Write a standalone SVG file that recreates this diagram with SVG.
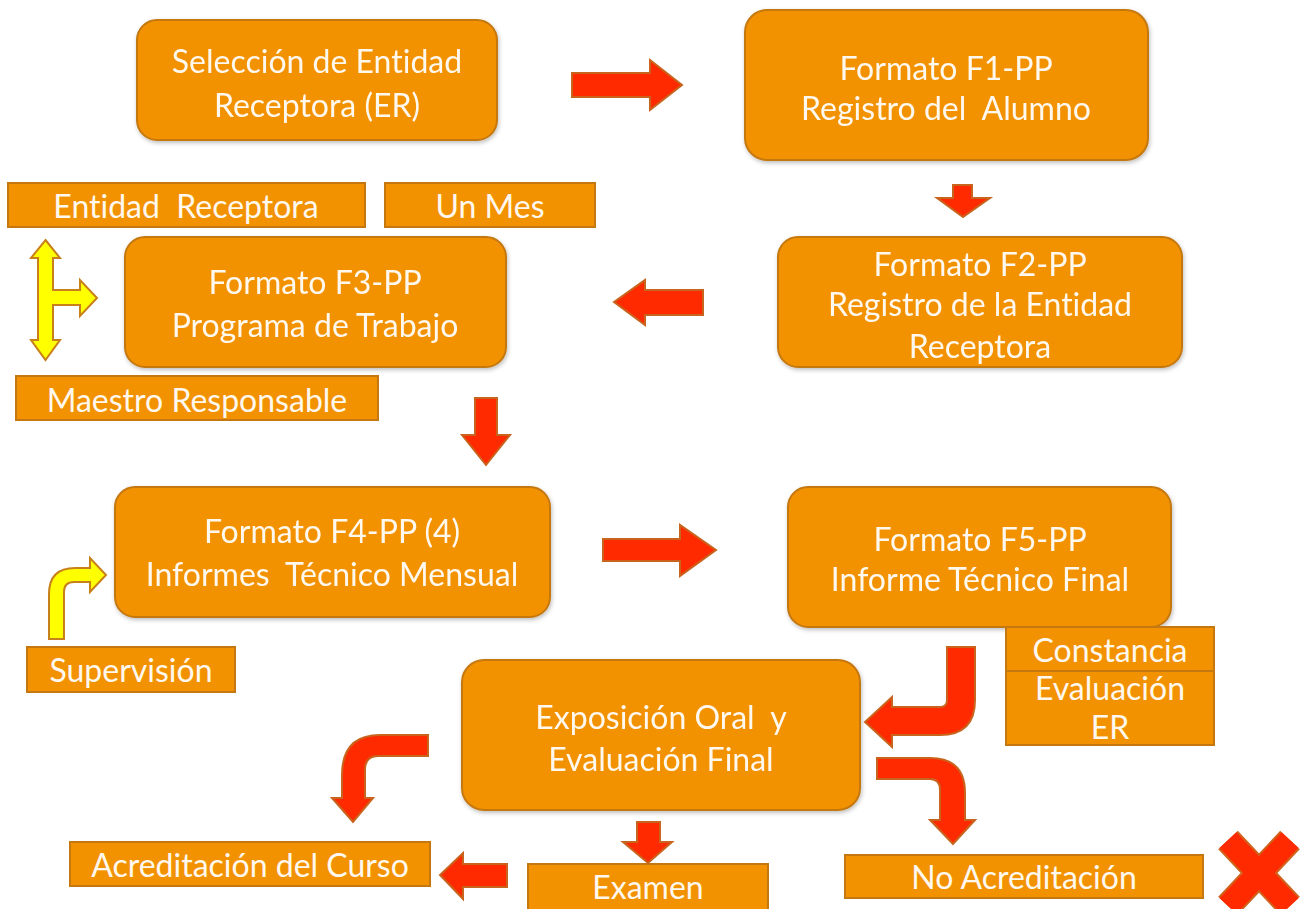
<svg xmlns="http://www.w3.org/2000/svg" width="1309" height="909" viewBox="0 0 1309 909">
<defs>
<style>
.node{fill:#F29200;stroke:#C5780F;stroke-width:2}
.lbl{fill:#F29200;stroke:#C5780F;stroke-width:2}
.t{font-family:Lato,"Open Sans","Liberation Sans",sans-serif;fill:#FFF8EE;font-size:32px;text-anchor:middle;white-space:pre;font-variant-ligatures:none}
.ts{font-family:Lato,"Open Sans","Liberation Sans",sans-serif;fill:#FFF8EE;font-size:32px;text-anchor:middle;white-space:pre;font-variant-ligatures:none}
.red{fill:#FF2A00;stroke:#C8641E;stroke-width:2;stroke-linejoin:miter}
.yel{fill:#FFFF00;stroke:#C8801A;stroke-width:2}
</style>
<filter id="sh" x="-5%" y="-5%" width="110%" height="115%"><feDropShadow dx="1" dy="2" stdDeviation="2" flood-color="#000" flood-opacity="0.25"/></filter>
</defs>
<rect width="1309" height="909" fill="#FFFFFF"/>

<g id="n-seleccion" filter="url(#sh)"><rect class="node" x="137" y="20" width="360" height="120" rx="20"/><text class="t" x="317" y="73">Selección de Entidad</text><text class="t" x="317" y="117">Receptora (ER)</text></g>
<g id="n-f1" filter="url(#sh)"><rect class="node" x="745" y="10" width="403" height="150" rx="22"/><text class="t" x="946" y="80">Formato F1-PP</text><text class="t" x="946" y="120">Registro del  Alumno</text></g>
<g id="n-f2" filter="url(#sh)"><rect class="node" x="778" y="237" width="404" height="130" rx="20"/><text class="t" x="980" y="276">Formato F2-PP</text><text class="t" x="980" y="316">Registro de la Entidad</text><text class="t" x="980" y="358">Receptora</text></g>
<g id="n-f3" filter="url(#sh)"><rect class="node" x="125" y="237" width="381" height="130" rx="20"/><text class="t" x="315" y="294">Formato F3-PP</text><text class="t" x="315" y="337">Programa de Trabajo</text></g>
<g id="n-f4" filter="url(#sh)"><rect class="node" x="115" y="487" width="435" height="130" rx="20"/><text class="t" x="332" y="543">Formato F4-PP (4)</text><text class="t" x="332" y="586">Informes  Técnico Mensual</text></g>
<g id="n-f5" filter="url(#sh)"><rect class="node" x="788" y="487" width="383" height="140" rx="20"/><text class="t" x="980" y="551">Formato F5-PP</text><text class="t" x="980" y="591">Informe Técnico Final</text></g>
<g id="n-expo" filter="url(#sh)"><rect class="node" x="462" y="660" width="398" height="150" rx="22"/><text class="t" x="661" y="729">Exposición Oral  y</text><text class="t" x="661" y="771">Evaluación Final</text></g>

<g id="l-entidad"><rect class="lbl" x="8" y="183" width="357" height="44"/><text class="ts" x="186" y="218">Entidad  Receptora</text></g>
<g id="l-unmes"><rect class="lbl" x="385" y="183" width="210" height="44"/><text class="ts" x="490" y="218">Un Mes</text></g>
<g id="l-maestro"><rect class="lbl" x="16" y="376" width="362" height="44"/><text class="ts" x="197" y="412">Maestro Responsable</text></g>
<g id="l-supervision"><rect class="lbl" x="27" y="647" width="208" height="45"/><text class="ts" x="131" y="682">Supervisión</text></g>
<g id="l-constancia"><rect class="lbl" x="1006" y="627" width="208" height="44"/><text class="ts" x="1110" y="662">Constancia</text></g>
<g id="l-evaler"><rect class="lbl" x="1006" y="671" width="208" height="74"/><text class="ts" x="1110" y="700">Evaluación</text><text class="ts" x="1110" y="739">ER</text></g>
<g id="l-noacred"><rect class="lbl" x="845" y="855" width="358" height="43"/><text class="ts" x="1024" y="889">No Acreditación</text></g>
<g id="l-acred"><rect class="lbl" x="70" y="842" width="360" height="44"/><text class="ts" x="250" y="877">Acreditación del Curso</text></g>
<g id="l-examen"><rect class="lbl" x="528" y="864" width="240" height="50"/><text class="ts" x="648" y="899">Examen</text></g>

<g id="connectors">
<path class="red" d="M572,73 L650,73 L650,60 L682,85 L650,110 L650,97 L572,97 Z"/>
<path class="red" d="M953,185 L972,185 L972,198 L990,198 L963,217 L937,198 L953,198 Z"/>
<path class="red" d="M703,290 L645,290 L645,280 L614,302 L645,325 L645,315 L703,315 Z"/>
<path class="red" d="M475,398 L497,398 L497,435 L510,435 L486,465 L462,435 L475,435 Z"/>
<path class="red" d="M603,539 L680,539 L680,525 L716,550 L680,576 L680,561 L603,561 Z"/>
<path class="yel" d="M45.5,240 L60,258 L53,258 L53,290 L80,290 L80,280 L97,298 L80,316 L80,305 L53,305 L53,340 L60,340 L45.5,360 L31,340 L38,340 L38,258 L31,258 Z"/>
<path class="yel" d="M49,639 L64,639 L64,592 Q64,582 74,582 L90,582 L90,592 L106,575 L90,558 L90,568 L75,568 Q49,568 49,594 Z"/>
<path class="red" d="M947,647 L975,647 L975,700 Q975,735 940,735 L892,735 L892,747 L865,722 L892,697 L892,707 L940,707 Q947,707 947,700 Z"/>
<path class="red" d="M877,758 L930,758 Q965,758 965,793 L965,820 L975,820 L953,844 L930,820 L940,820 L940,790 Q940,779 930,779 L877,779 Z"/>
<path class="red" d="M428,735 L428,756 L378,756 Q365,756 365,770 L365,798 L373,798 L353,822 L332,798 L342,798 L342,775 Q342,735 380,735 Z"/>
<path class="red" d="M637,822 L660,822 L660,842 L672,842 L648,863 L623,842 L637,842 Z"/>
<path class="red" d="M507,864 L463,864 L463,853 L440,875 L463,899 L463,887 L507,887 Z"/>
<g id="x-mark">
<path d="M1228,840 L1290,906 M1290,840 L1228,906" stroke="#D0641E" stroke-width="27" fill="none"/>
<path d="M1228,840 L1290,906 M1290,840 L1228,906" stroke="#FF2A00" stroke-width="23" fill="none"/>
</g>
</g>
</svg>
